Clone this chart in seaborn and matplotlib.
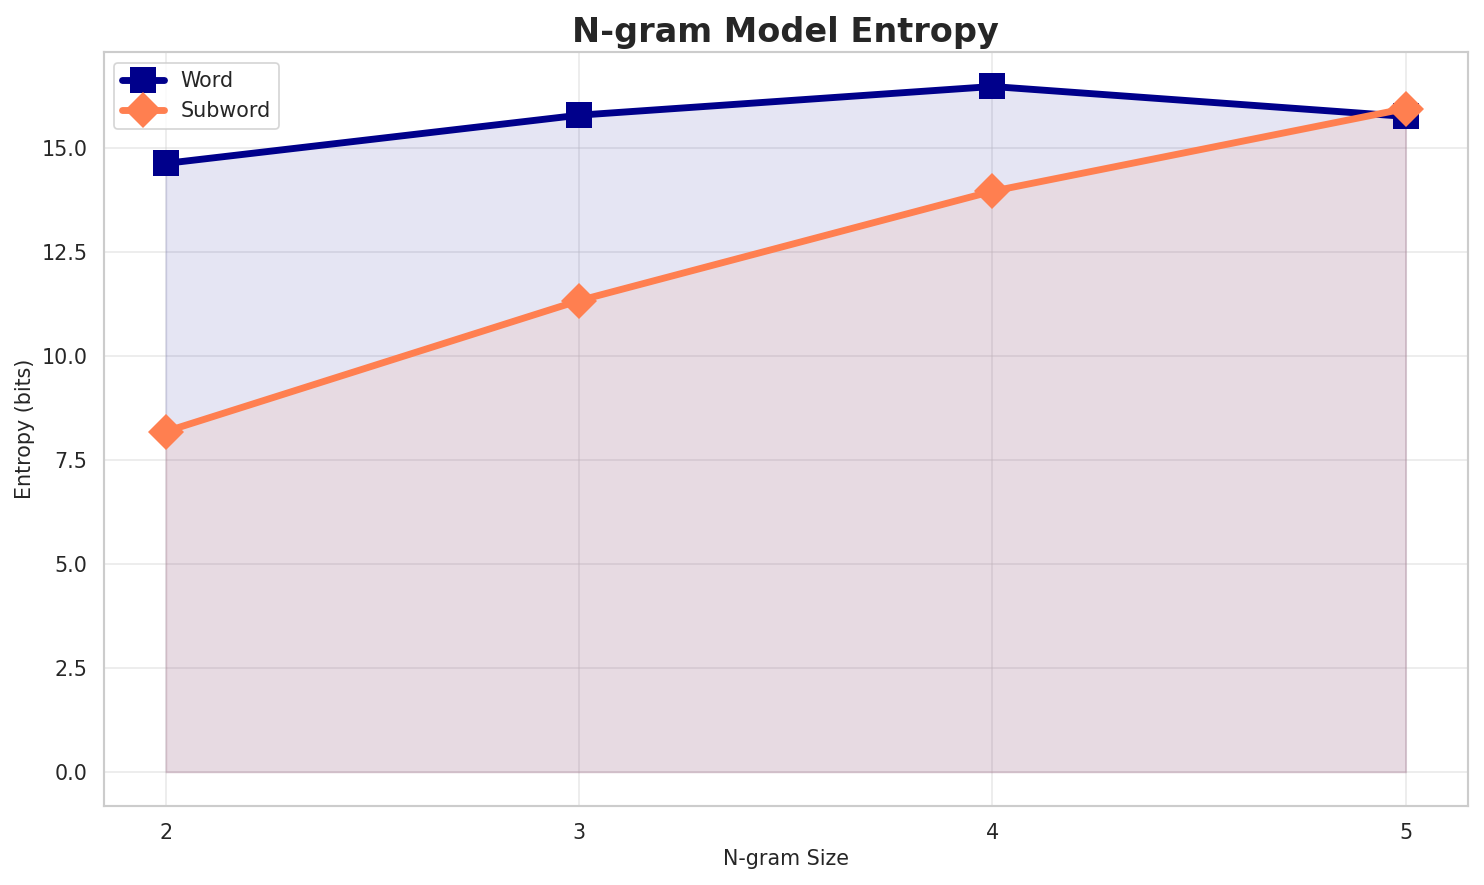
import numpy as np
import matplotlib.pyplot as plt
import seaborn as sns

# n-gram sizes and entropy values (bits)
ngram_sizes = [2, 3, 4, 5]
word_entropy = [14.64, 15.80, 16.49, 15.77]
subword_entropy = [8.19, 11.34, 13.97, 15.96]

sns.set_theme(style='whitegrid')
plt.rcParams['font.family'] = ['DejaVu Sans']

DPI = 123.67
fig, ax = plt.subplots(figsize=(1484 / DPI, 885 / DPI), dpi=DPI)

sns.lineplot(x=ngram_sizes, y=word_entropy, ax=ax, color='darkblue', marker='s',
             markersize=15, linewidth=4, markeredgewidth=0, label='Word')
sns.lineplot(x=ngram_sizes, y=subword_entropy, ax=ax, color='coral', marker='D',
             markersize=15, linewidth=4, markeredgewidth=0, label='Subword')
ax.fill_between(ngram_sizes, word_entropy, color='darkblue', alpha=0.1)
ax.fill_between(ngram_sizes, subword_entropy, color='coral', alpha=0.1)

ax.set_xticks(ngram_sizes)
ax.set_title('N-gram Model Entropy', fontsize=19.5, fontweight='bold')
ax.set_xlabel('N-gram Size', fontsize=12)
ax.set_ylabel('Entropy (bits)', fontsize=12)
ax.tick_params(labelsize=12)
ax.grid(True, alpha=0.4)
for s in ax.spines.values():
    s.set_color('#cccccc')
ax.legend(loc='upper left', fontsize=12)

fig.subplots_adjust(left=0.070, right=0.989, top=0.941, bottom=0.089)
plt.savefig('out.png', dpi=DPI)
